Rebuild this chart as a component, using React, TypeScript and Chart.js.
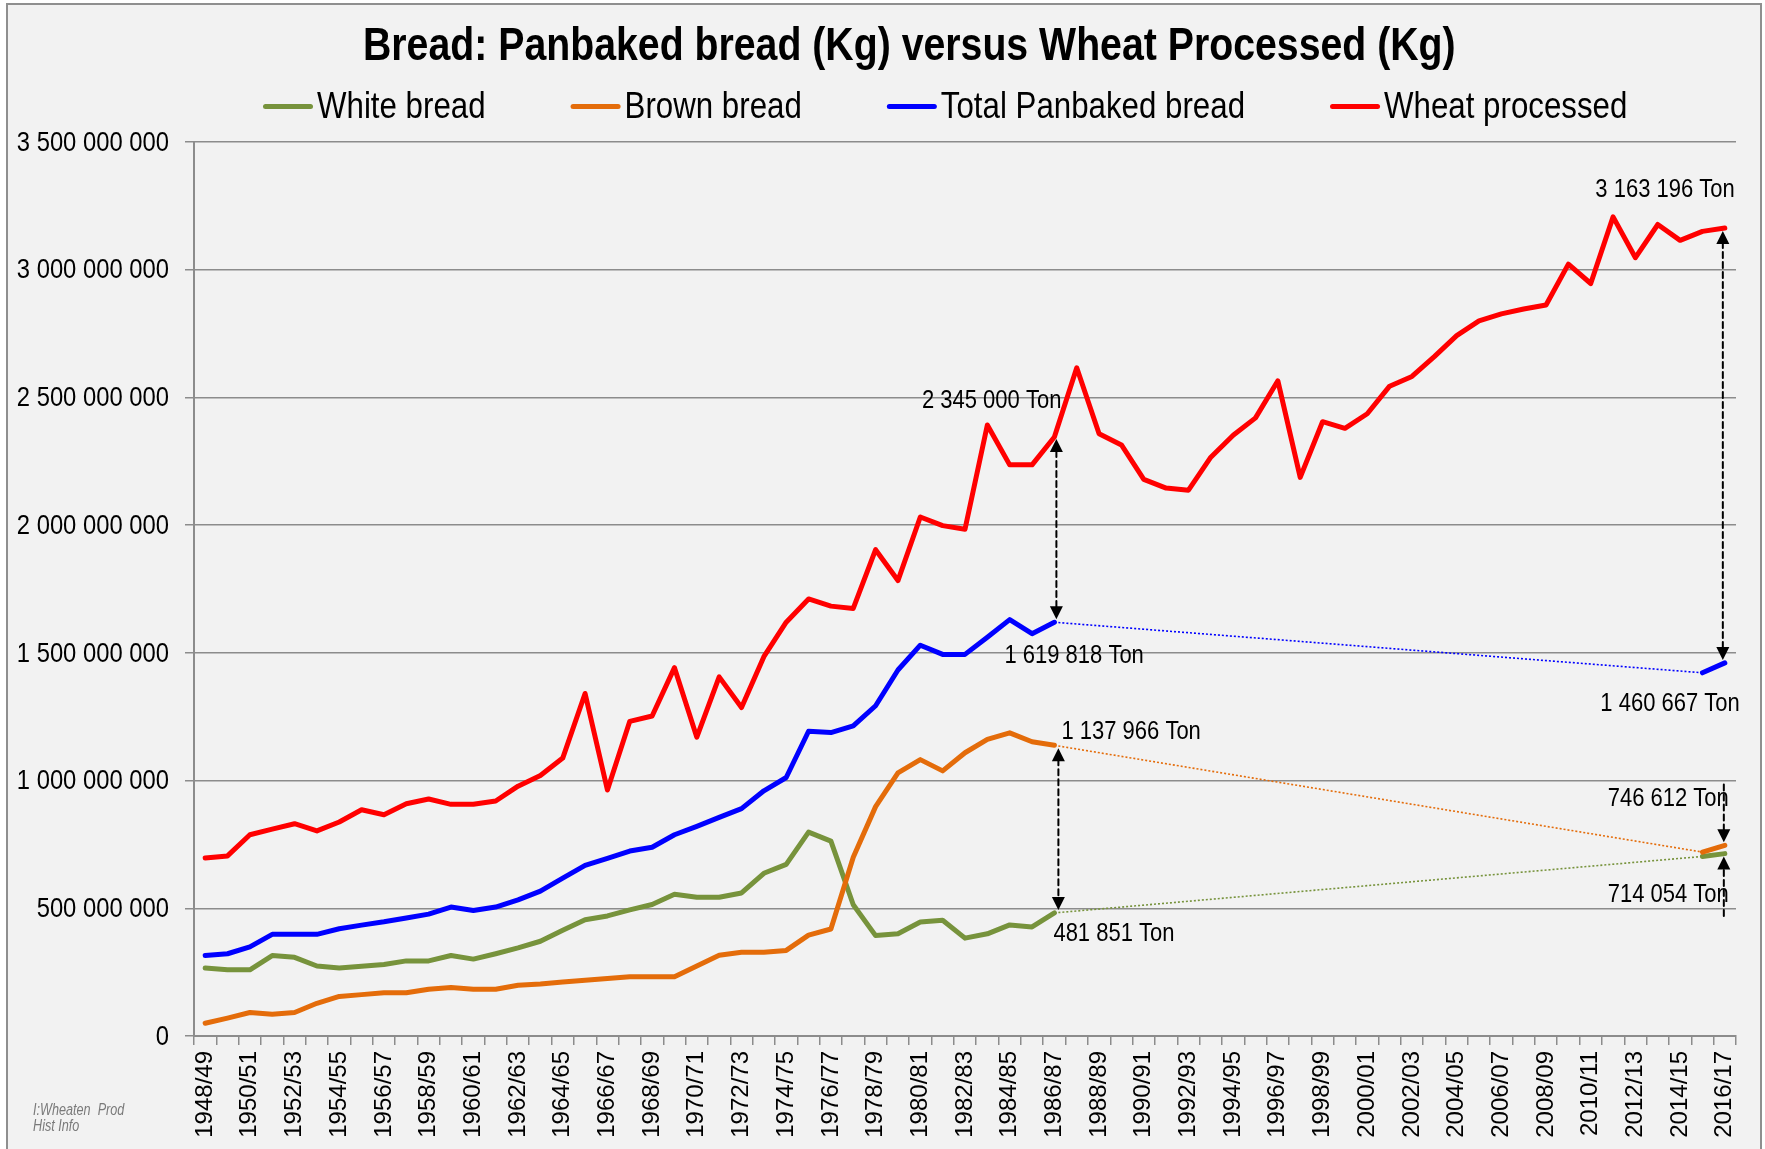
import React, { useEffect, useRef } from "react";
import { Chart, registerables } from "chart.js";

Chart.register(...registerables);

const categories = [
  "1948/49", "1949/50", "1950/51", "1951/52", "1952/53", "1953/54", "1954/55", "1955/56", "1956/57", "1957/58",
  "1958/59", "1959/60", "1960/61", "1961/62", "1962/63", "1963/64", "1964/65", "1965/66", "1966/67", "1967/68",
  "1968/69", "1969/70", "1970/71", "1971/72", "1972/73", "1973/74", "1974/75", "1975/76", "1976/77", "1977/78",
  "1978/79", "1979/80", "1980/81", "1981/82", "1982/83", "1983/84", "1984/85", "1985/86", "1986/87", "1987/88",
  "1988/89", "1989/90", "1990/91", "1991/92", "1992/93", "1993/94", "1994/95", "1995/96", "1996/97", "1997/98",
  "1998/99", "1999/00", "2000/01", "2001/02", "2002/03", "2003/04", "2004/05", "2005/06", "2006/07", "2007/08",
  "2008/09", "2009/10", "2010/11", "2011/12", "2012/13", "2013/14", "2014/15", "2015/16", "2016/17",
];

// values in million kg
const whiteBread = [
  266, 259, 259, 315, 308, 274, 266, 273, 280, 294,
  294, 315, 301, 322, 345, 371, 414, 455, 470, 494,
  515, 555, 543, 543, 560, 637, 672, 798, 763, 514,
  393, 400, 446, 453, 383, 400, 435, 427, 481.851, null,
  null, null, null, null, null, null, null, null, null, null,
  null, null, null, null, null, null, null, null, null, null,
  null, null, null, null, null, null, null, 703, 714.054,
];

const brownBread = [
  50, 70, 92, 85, 92, 128, 155, 162, 169, 169,
  183, 190, 183, 183, 199, 204, 211, 218, 225, 232,
  232, 232, 274, 316, 328, 328, 335, 395, 419, 700,
  898, 1030, 1082, 1038, 1109, 1161, 1187, 1152, 1137.966, null,
  null, null, null, null, null, null, null, null, null, null,
  null, null, null, null, null, null, null, null, null, null,
  null, null, null, null, null, null, null, 720, 746.612,
];

const totalPanbaked = [
  315, 322, 349, 398, 398, 398, 420, 434, 447, 462,
  477, 505, 491, 505, 533, 567, 618, 668, 695, 724,
  739, 788, 821, 856, 890, 960, 1012, 1193, 1188, 1214,
  1293, 1433, 1530, 1494, 1494, 1561, 1630, 1575, 1619.818, null,
  null, null, null, null, null, null, null, null, null, null,
  null, null, null, null, null, null, null, null, null, null,
  null, null, null, null, null, null, null, 1422, 1460.667,
];

const wheatProcessed = [
  697, 705, 788, 810, 831, 803, 838, 886, 866, 909,
  928, 907, 907, 920, 978, 1020, 1088, 1341, 963, 1232,
  1253, 1442, 1170, 1406, 1286, 1485, 1620, 1711, 1683, 1674,
  1904, 1783, 2032, 1998, 1984, 2392, 2236, 2236, 2345, 2616,
  2358, 2314, 2179, 2145, 2137, 2266, 2352, 2420, 2565, 2187,
  2405, 2379, 2436, 2544, 2582, 2660, 2742, 2800, 2827, 2846,
  2862, 3022, 2946, 3207, 3047, 3177, 3115, 3150, 3163.196,
];

const seriesNames = ["White bread", "Brown bread", "Total Panbaked bread", "Wheat processed"];
const seriesColors = ["#77933C", "#E46C0A", "#0000FF", "#FF0000"];

const yTicks = [0, 500, 1000, 1500, 2000, 2500, 3000, 3500];

const titleText = "Bread: Panbaked bread (Kg) versus Wheat Processed (Kg)";
const sourceNote = ["I:Wheaten  Prod", "Hist Info"];

const noteTexts = [
  "2 345 000 Ton", "1 619 818 Ton", "1 137 966 Ton", "481 851 Ton",
  "3 163 196 Ton", "1 460 667 Ton", "746 612 Ton", "714 054 Ton",
];

const SANS = '"Liberation Sans", Arial, sans-serif';

function fmtKg(v: number) {
  return String(Math.round(v * 1e6)).replace(/\B(?=(\d{3})+(?!\d))/g, " ");
}

// a segment that bridges the missing years (touches a skipped point)
const gap = (c: any) => !!(c.p0.skip || c.p1.skip);

function squeezed(
  ctx: CanvasRenderingContext2D,
  text: string,
  x: number,
  y: number,
  align: CanvasTextAlign,
  sx: number
) {
  ctx.save();
  ctx.translate(x, y);
  ctx.scale(sx, 1);
  ctx.textAlign = align;
  ctx.fillText(text, 0, 0);
  ctx.restore();
}

function head(ctx: CanvasRenderingContext2D, x: number, tip: number, dir: number) {
  const w = 6.5, l = 13;
  ctx.beginPath();
  ctx.moveTo(x, tip);
  ctx.lineTo(x - w, tip - dir * l);
  ctx.lineTo(x + w, tip - dir * l);
  ctx.closePath();
  ctx.fill();
}

function dashedLine(ctx: CanvasRenderingContext2D, x: number, y1: number, y2: number) {
  ctx.save();
  ctx.setLineDash([6, 4]);
  ctx.lineWidth = 2;
  ctx.beginPath();
  ctx.moveTo(x, y1);
  ctx.lineTo(x, y2);
  ctx.stroke();
  ctx.restore();
}

const overlayPlugin = {
  id: "overlay",
  afterDraw(chart: any) {
    const ctx: CanvasRenderingContext2D = chart.ctx;
    const xs = chart.scales.x;
    const ys = chart.scales.y;
    const area = chart.chartArea;
    const yv = (v: number) => ys.getPixelForValue(v);
    ctx.save();

    // title
    ctx.fillStyle = "#000";
    ctx.font = `bold 47px ${SANS}`;
    ctx.textBaseline = "alphabetic";
    squeezed(ctx, titleText, 363, 60, "left", 0.835);

    // legend
    ctx.font = `37px ${SANS}`;
    ctx.textBaseline = "middle";
    const lsq = 0.845;
    let lx = 263;
    const ly = 106.5;
    seriesNames.forEach((_n, i) => {
      const ds = chart.data.datasets[i];
      ctx.strokeStyle = ds.borderColor;
      ctx.lineWidth = 5;
      ctx.lineCap = "round";
      ctx.beginPath();
      ctx.moveTo(lx + 2.5, ly);
      ctx.lineTo(lx + 47.5, ly);
      ctx.stroke();
      ctx.fillStyle = "#000";
      squeezed(ctx, ds.label, lx + 54, ly + 1, "left", lsq);
      lx += 54 + ctx.measureText(ds.label).width * lsq + 85;
    });

    // y tick labels
    ctx.fillStyle = "#000";
    ctx.font = `28px ${SANS}`;
    ctx.textBaseline = "middle";
    ys.ticks.forEach((t: any) => {
      squeezed(ctx, fmtKg(t.value), area.left - 25, ys.getPixelForValue(t.value) + 1, "right", 0.85);
    });

    // source note
    ctx.fillStyle = "#7a7a7a";
    ctx.font = `italic 16px ${SANS}`;
    squeezed(ctx, sourceNote[0], 33, 1111, "left", 0.79);
    squeezed(ctx, sourceNote[1], 33, 1127, "left", 0.79);

    // arrows
    ctx.fillStyle = "#000";
    ctx.strokeStyle = "#000";
    const x38 = xs.getPixelForValue(38);
    const x68 = xs.getPixelForValue(68);
    const w38 = yv(wheatProcessed[38]);
    const t38 = yv(totalPanbaked[38] as number);
    const b38 = yv(brownBread[38] as number);
    const g38 = yv(whiteBread[38] as number);
    const w68 = yv(wheatProcessed[68]);
    const t68 = yv(totalPanbaked[68] as number);
    const b68 = yv(brownBread[68] as number);
    const g68 = yv(whiteBread[68] as number);

    const a1 = x38 + 2;
    dashedLine(ctx, a1, w38 + 14, t38 - 14);
    head(ctx, a1, w38 + 2, -1);
    head(ctx, a1, t38 - 3, 1);

    const a2 = x38 + 4;
    dashedLine(ctx, a2, b38 + 14, g38 - 14);
    head(ctx, a2, b38 + 3, -1);
    head(ctx, a2, g38 - 3, 1);

    const a3 = x68 - 2;
    dashedLine(ctx, a3, w68 + 14, t68 - 14);
    head(ctx, a3, w68 + 3, -1);
    head(ctx, a3, t68 - 3, 1);

    const a4 = x68 - 1;
    dashedLine(ctx, a4, yv(985), b68 - 14);
    head(ctx, a4, b68 - 3, 1);
    dashedLine(ctx, a4, yv(470), g68 + 14);
    head(ctx, a4, g68 + 3, -1);

    // value labels
    ctx.font = `25px ${SANS}`;
    ctx.fillStyle = "#000";
    ctx.textBaseline = "middle";
    const sq = 0.88;
    squeezed(ctx, noteTexts[0], a1 + 5, w38 - 36, "right", sq);
    squeezed(ctx, noteTexts[1], a1 - 52, t38 + 34, "left", sq);
    squeezed(ctx, noteTexts[2], a2 + 3, b38 - 13, "left", sq);
    squeezed(ctx, noteTexts[3], a2 - 5, g38 + 21, "left", sq);
    squeezed(ctx, noteTexts[4], a3 + 12, w68 - 38, "right", sq);
    squeezed(ctx, noteTexts[5], a3 + 17, t68 + 41, "right", sq);
    squeezed(ctx, noteTexts[6], a4 + 5, b68 - 46, "right", sq);
    squeezed(ctx, noteTexts[7], a4 + 5, g68 + 41, "right", sq);

    ctx.restore();
  },
};

function makeDataset(label: string, data: (number | null)[], color: string, order: number) {
  return {
    label,
    data,
    borderColor: color,
    backgroundColor: color,
    borderWidth: 5,
    pointRadius: 0,
    pointHoverRadius: 0,
    tension: 0,
    spanGaps: true,
    order,
    borderCapStyle: "round" as const,
    borderJoinStyle: "round" as const,
    segment: {
      borderDash: (c: any) => (gap(c) ? [2, 2] : undefined),
      borderWidth: (c: any) => (gap(c) ? 1.6 : undefined),
      borderCapStyle: (c: any) => (gap(c) ? "butt" : undefined),
    },
  };
}

export default function App() {
  const ref = useRef<HTMLCanvasElement>(null);

  useEffect(() => {
    const canvas = ref.current!;
    const chart = new Chart(canvas, {
      type: "line",
      data: {
        labels: categories,
        datasets: [
          makeDataset(seriesNames[0], whiteBread, seriesColors[0], 3),
          makeDataset(seriesNames[1], brownBread, seriesColors[1], 2),
          makeDataset(seriesNames[2], totalPanbaked, seriesColors[2], 1),
          makeDataset(seriesNames[3], wheatProcessed, seriesColors[3], 0),
        ] as any,
      },
      options: {
        responsive: false,
        animation: false,
        devicePixelRatio: 1,
        layout: { padding: { top: 142, left: 0, right: 29, bottom: 0 } },
        plugins: {
          legend: { display: false },
          title: { display: false },
          tooltip: { enabled: false },
        },
        scales: {
          x: {
            type: "category",
            offset: true,
            grid: {
              display: true,
              offset: true,
              drawOnChartArea: false,
              drawTicks: true,
              tickLength: 9,
              color: "#8c8c8c",
              lineWidth: 1.5,
            },
            border: { display: true, color: "#8c8c8c", width: 2 },
            ticks: {
              autoSkip: false,
              maxRotation: 90,
              minRotation: 90,
              padding: 6,
              color: "#000",
              font: { family: SANS, size: 24 },
              callback: (_v: any, i: number) => (i % 2 === 0 ? categories[i] : ""),
            },
            afterFit: (s: any) => {
              s.height = 113;
            },
          },
          y: {
            min: 0,
            max: 3500,
            afterBuildTicks: (s: any) => {
              s.ticks = yTicks.map((v) => ({ value: v }));
            },
            grid: {
              color: "#8c8c8c",
              lineWidth: 1.5,
              drawTicks: true,
              tickLength: 9,
            },
            border: { display: true, color: "#8c8c8c", width: 2 },
            ticks: { display: false },
            afterFit: (s: any) => {
              s.width = 194;
            },
          },
        },
      },
      plugins: [overlayPlugin],
    });
    return () => chart.destroy();
  }, []);

  return (
    <div
      style={{
        position: "absolute",
        left: 0,
        top: 0,
        width: 1765,
        height: 1149,
        background: "#ffffff",
        overflow: "hidden",
      }}
    >
      <div
        style={{
          position: "absolute",
          left: 6,
          top: 3,
          width: 1756,
          height: 1150,
          boxSizing: "border-box",
          border: "2px solid #8f8f8f",
          background: "#f2f2f2",
        }}
      />
      <canvas
        ref={ref}
        width={1765}
        height={1149}
        style={{ position: "absolute", left: 0, top: 0, width: 1765, height: 1149 }}
      />
    </div>
  );
}
